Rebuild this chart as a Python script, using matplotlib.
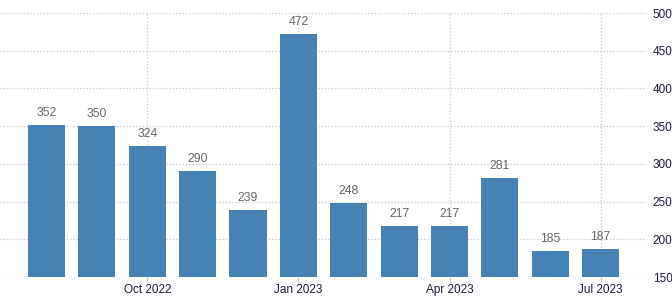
import matplotlib
matplotlib.use("Agg")
import matplotlib.pyplot as plt

months = ["Aug 2022", "Sep 2022", "Oct 2022", "Nov 2022", "Dec 2022", "Jan 2023",
          "Feb 2023", "Mar 2023", "Apr 2023", "May 2023", "Jun 2023", "Jul 2023"]
values = [352, 350, 324, 290, 239, 472, 248, 217, 217, 281, 185, 187]
tick_labels = ["Oct 2022", "Jan 2023", "Apr 2023", "Jul 2023"]
y_ticks = [150, 200, 250, 300, 350, 400, 450, 500]

plt.rcParams['font.family'] = ['Liberation Sans', 'DejaVu Sans']

fig = plt.figure(figsize=(6.72, 2.97), dpi=100)
ax = fig.add_axes([0, 20/297, 647/672, 264/297])

x = list(range(len(months)))
ax.bar(x, values, width=0.735, color="#4682b4", zorder=2)
for xi, v in zip(x, values):
    ax.text(xi, v + 8, str(v), ha="center", va="bottom", fontsize=8.8, color="#666666", zorder=3)

ax.set_ylim(150, 500)
ax.set_xlim(-0.923, 11.92)
ax.set_yticks(y_ticks)
ax.yaxis.tick_right()
ax.tick_params(axis="y", length=0, pad=4, labelsize=8.5, labelcolor="#1a1a3a")
tick_pos = [months.index(t) for t in tick_labels]
ax.set_xticks(tick_pos)
ax.set_xticklabels(tick_labels)
ax.tick_params(axis="x", length=4, color="#cccccc", pad=1, labelsize=8.5, labelcolor="#1a1a3a")
ax.grid(True, linestyle=":", color="#c8c8c8", linewidth=0.9, zorder=0)
ax.set_axisbelow(True)
for s in ax.spines.values():
    s.set_visible(False)

fig.savefig("out.png", dpi=100)
